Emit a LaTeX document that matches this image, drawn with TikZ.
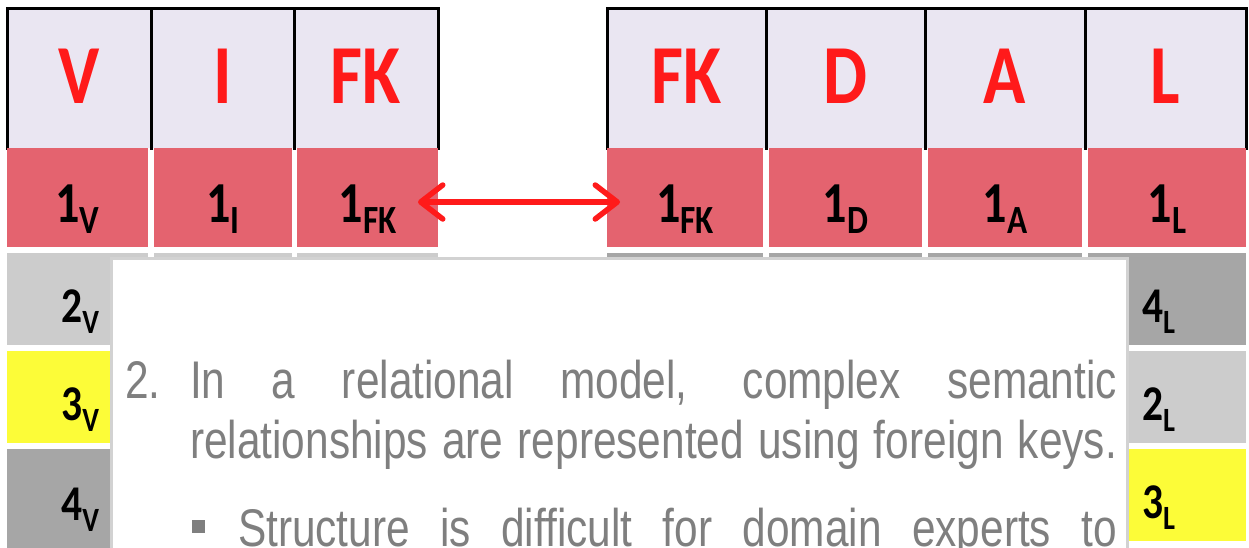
\documentclass[tikz,border=0pt]{standalone}
\usepackage{fontspec}
\usetikzlibrary{arrows.meta}
\newfontfamily\tabfont{Carlito}[FakeStretch=0.83]
\newfontfamily\bodyfont{Liberation Sans}[FakeStretch=0.80]
\definecolor{hdrfill}{HTML}{EAE6F2}
\definecolor{pinkfill}{HTML}{E4636F}
\definecolor{lgray}{HTML}{CCCCCC}
\definecolor{dgray}{HTML}{A6A6A6}
\definecolor{yel}{HTML}{FCFC38}
\definecolor{redtxt}{HTML}{FF1A1A}
\definecolor{textgray}{HTML}{7F7F7F}
\definecolor{boxgray}{HTML}{D2D2D2}
\newcommand{\mysubnum}[4]{{\fontsize{#3}{#3}\selectfont #1}\raisebox{-11pt}{\fontsize{#4}{#4}\selectfont #2}}
\newcommand{\pinklab}[2]{\mysubnum{#1}{#2}{58}{40}}
\newcommand{\sidelab}[2]{\mysubnum{#1}{#2}{50}{34}}
\tikzset{
  hdr/.style={fill=hdrfill, inner sep=0, outer sep=0, minimum height=140pt,
    text height=95pt, text depth=45pt, text=redtxt,
    font=\tabfont\bfseries\fontsize{84}{84}\selectfont},
  pinkcell/.style={fill=pinkfill, inner sep=0, outer sep=0, minimum height=99pt,
    text height=74pt, text depth=25pt, text=black, font=\tabfont\bfseries},
  sidecell/.style={inner sep=0, outer sep=0, minimum height=92pt,
    text height=69pt, text depth=23pt, text=black, font=\tabfont\bfseries},
  leftlab/.style={text width=43pt, align=right},
  rightlab/.style={text width=50pt, align=left},
  border/.style={draw=black, line width=3pt, line cap=rect},
  body/.style={inner sep=0, outer sep=0, text=textgray,
    font=\bodyfont\fontsize{53}{53}\selectfont},
  fkarrow/.style={draw=redtxt, line width=5.5pt, line cap=round,
    {Straight Barb[length=22pt,width=34pt,round]}-{Straight Barb[length=22pt,width=34pt,round]}}
}
\begin{document}
\begin{tikzpicture}[x=1pt,y=-1pt]
\useasboundingbox (0,0) rectangle (1249,547);
\clip (0,0) rectangle (1249,547);
\fill[white] (0,0) rectangle (1249,547);

% ---- left table header ----
\node[hdr, minimum width=144pt] (lhV) at (79,78) {V};
\node[hdr, minimum width=143pt] (lhI) at (222.5,78) {I};
\node[hdr, minimum width=144pt] (lhFK) at (366,78) {FK};
\draw[border] (lhV.south west) -- (lhV.north west) -- (lhFK.north east) -- (lhFK.south east);
\draw[border] (lhV.north east) -- (lhV.south east);
\draw[border] (lhI.north east) -- (lhI.south east);

% ---- right table header ----
\node[hdr, minimum width=159pt] (rhFK) at (686.5,78) {FK};
\node[hdr, minimum width=159pt] (rhD) at (845.5,78) {D};
\node[hdr, minimum width=160pt] (rhA) at (1005,78) {A};
\node[hdr, minimum width=161pt] (rhL) at (1165.5,78) {L};
\draw[border] (rhFK.south west) -- (rhFK.north west) -- (rhL.north east) -- (rhL.south east);
\draw[border] (rhFK.north east) -- (rhFK.south east);
\draw[border] (rhD.north east) -- (rhD.south east);
\draw[border] (rhA.north east) -- (rhA.south east);

% ---- pink key rows ----
\node[pinkcell, minimum width=141pt] (lp1) at (77.5,197.5) {\pinklab{1}{V}};
\node[pinkcell, minimum width=138pt] (lp2) at (223,197.5) {\pinklab{1}{I}};
\node[pinkcell, minimum width=141pt] (lp3) at (367.5,197.5) {\pinklab{1}{FK}};
\node[pinkcell, minimum width=156pt] (rp1) at (685,197.5) {\pinklab{1}{FK}};
\node[pinkcell, minimum width=153pt] (rp2) at (845.5,197.5) {\pinklab{1}{D}};
\node[pinkcell, minimum width=154pt] (rp3) at (1005,197.5) {\pinklab{1}{A}};
\node[pinkcell, minimum width=158pt] (rp4) at (1167,197.5) {\pinklab{1}{L}};

% ---- row strips under the tables ----
\node[sidecell, fill=lgray, minimum width=138pt] (lr2b) at (223,299) {};
\node[sidecell, fill=lgray, minimum width=141pt] (lr2c) at (367.5,299) {};
\node[sidecell, fill=dgray, minimum width=156pt] (rr2a) at (685,299) {};
\node[sidecell, fill=dgray, minimum width=153pt] (rr2b) at (845.5,299) {};
\node[sidecell, fill=dgray, minimum width=154pt] (rr2c) at (1005,299) {};

% ---- left column ----
\node[sidecell, leftlab, fill=lgray, minimum width=141pt] (v2) at (77.5,299) {\sidelab{2}{V}};
\node[sidecell, leftlab, fill=yel, minimum width=141pt] (v3) at (77.5,397) {\sidelab{3}{V}};
\node[sidecell, leftlab, fill=dgray, minimum width=141pt, minimum height=110pt,
      text height=71pt, text depth=39pt] (v4) at (77.5,504) {\sidelab{4}{V}};

% ---- right column ----
\node[sidecell, rightlab, fill=dgray, minimum width=158pt] (l4) at (1167,299) {\sidelab{4}{L}};
\node[sidecell, rightlab, fill=lgray, minimum width=158pt] (l2) at (1167,397) {\sidelab{2}{L}};
\node[sidecell, rightlab, fill=yel, minimum width=158pt] (l3) at (1167,495) {\sidelab{3}{L}};

% ---- foreign key arrow ----
\draw[fkarrow] ([xshift=-20pt,yshift=-4.5pt]lp3.east) -- ([xshift=13pt,yshift=-4.5pt]rp1.west);

% ---- text box ----
\node[draw=boxgray, line width=3pt, fill=white, inner sep=0, outer sep=0,
      minimum width=1016pt, minimum height=320pt, anchor=north west] (box) at (111.5,258.5) {};
\node[body, anchor=base west] (num) at (125,398) {2.};
\node[body, anchor=base west] (line1) at (190,398) {\makebox[927pt][s]{In a relational model, complex semantic}};
\node[body, anchor=base west] (line2) at (190,458) {\makebox[927pt][s]{relationships are represented using foreign keys.}};
\node[fill=textgray, inner sep=0, minimum size=13pt] (bullet) at (198.5,526) {};
\node[body, anchor=base west] (line3) at (238,546) {\makebox[879pt][s]{Structure is difficult for domain experts to}};
\end{tikzpicture}
\end{document}
